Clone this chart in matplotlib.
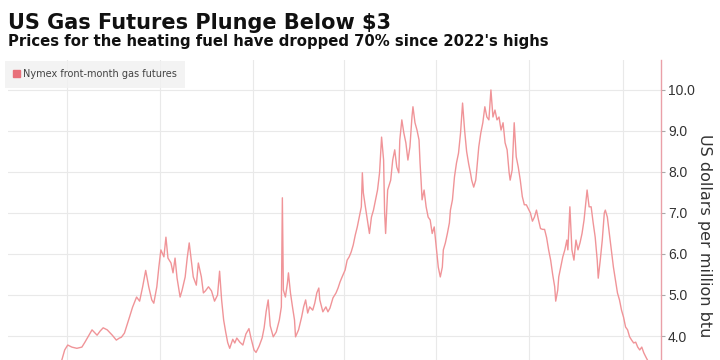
import pandas as pd
import matplotlib
matplotlib.use('Agg')
import matplotlib.pyplot as plt
import matplotlib.dates as mdates
from matplotlib.patches import Patch

# days after 2021-07-01 and front-month price (US$/MMBtu)
days = [-12, -5, -2, 1, 5, 10, 15, 18, 21, 25, 30, 33, 36, 40, 45, 49, 52, 54, 57, 60,
        62, 65, 69, 72, 75, 78, 81, 84, 86, 89, 91, 93, 96, 98, 100, 103, 105, 107, 109, 112,
        114, 117, 119, 121, 123, 125, 128, 130, 133, 135, 137, 140, 143, 146, 149, 151, 153, 155, 157, 159,
        161, 164, 166, 168, 171, 174, 177, 180, 182, 185, 187, 190, 193, 195, 197, 199, 201, 204, 207, 210,
        212, 213, 214, 216, 218, 219, 221, 223, 225, 226, 229, 232, 234, 236, 238, 240, 243, 245, 247, 249,
        250, 253, 256, 258, 260, 263, 266, 268, 270, 272, 275, 277, 279, 281, 283, 285, 287, 289, 291, 292,
        293, 295, 297, 299, 301, 303, 305, 307, 309, 311, 313, 314, 315, 317, 320, 322, 324, 326, 328, 329,
        331, 333, 335, 337, 339, 341, 342, 344, 346, 348, 349, 350, 351, 353, 355, 357, 359, 361, 363, 365,
        366, 367, 369, 371, 372, 374, 376, 378, 379, 381, 383, 385, 387, 389, 391, 393, 395, 397, 399, 400,
        402, 404, 405, 407, 409, 411, 413, 415, 417, 419, 421, 423, 425, 427, 429, 431, 433, 435, 437, 438,
        440, 442, 444, 446, 448, 450, 452, 454, 456, 458, 460, 462, 464, 466, 468, 470, 472, 474, 476, 478,
        480, 482, 483, 485, 486, 488, 490, 492, 494, 495, 497, 499, 501, 503, 505, 507, 509, 511, 513, 514,
        516, 518, 520, 522, 524, 525, 527, 529, 531, 532, 534, 536, 538, 540, 542, 544, 546, 548, 550, 552,
        554, 556, 558, 560, 562, 564, 566, 568, 570, 572, 575, 579, 582]
prices = [3.20, 3.40, 3.66, 3.78, 3.73, 3.70, 3.73, 3.85, 3.98, 4.15, 4.02, 4.12, 4.20, 4.15, 4.02, 3.90, 3.95, 3.97, 4.07, 4.30,
          4.46, 4.70, 4.95, 4.85, 5.20, 5.60, 5.20, 4.88, 4.80, 5.20, 5.68, 6.10, 5.93, 6.41, 5.90, 5.78, 5.54, 5.90, 5.41, 4.95,
          5.12, 5.44, 5.90, 6.27, 5.85, 5.44, 5.24, 5.78, 5.44, 5.05, 5.10, 5.20, 5.10, 4.85, 5.00, 5.58, 4.88, 4.39, 4.10, 3.84,
          3.70, 3.92, 3.83, 3.95, 3.85, 3.78, 4.05, 4.18, 3.95, 3.66, 3.60, 3.75, 3.95, 4.20, 4.60, 4.88, 4.25, 3.98, 4.10, 4.39,
          4.71, 7.37, 5.12, 4.95, 5.29, 5.54, 5.05, 4.71, 4.39, 3.98, 4.15, 4.46, 4.71, 4.88, 4.56, 4.71, 4.63, 4.80, 5.05, 5.17,
          4.88, 4.59, 4.71, 4.59, 4.68, 4.93, 5.05, 5.17, 5.32, 5.44, 5.61, 5.85, 5.93, 6.05, 6.22, 6.46, 6.66, 6.90, 7.15, 7.98,
          7.49, 7.15, 6.83, 6.50, 6.90, 7.07, 7.32, 7.56, 7.98, 8.85, 8.29, 7.00, 6.50, 7.56, 7.80, 8.29, 8.54, 8.12, 7.98, 8.78,
          9.27, 8.95, 8.71, 8.29, 8.61, 9.34, 9.59, 9.20, 9.02, 8.78, 8.22, 7.80, 7.32, 7.56, 7.15, 6.90, 6.83, 6.50, 6.66, 6.17,
          5.93, 5.68, 5.44, 5.68, 6.10, 6.27, 6.50, 6.76, 7.07, 7.32, 7.88, 8.22, 8.46, 8.95, 9.68, 9.02, 8.50, 8.20, 7.95, 7.80,
          7.63, 7.80, 8.05, 8.61, 8.95, 9.20, 9.59, 9.34, 9.27, 10.00, 9.34, 9.51, 9.27, 9.34, 9.02, 9.20, 8.71, 8.54, 7.98, 7.80,
          8.05, 9.20, 8.37, 8.12, 7.80, 7.40, 7.20, 7.20, 7.10, 7.00, 6.80, 6.90, 7.07, 6.83, 6.62, 6.60, 6.60, 6.40, 6.10, 5.85,
          5.50, 5.20, 4.85, 5.12, 5.44, 5.68, 5.93, 6.10, 6.34, 6.10, 7.15, 6.10, 5.85, 6.34, 6.10, 6.27, 6.50, 6.83, 7.32, 7.56,
          7.15, 7.15, 6.76, 6.41, 5.85, 5.41, 5.85, 6.34, 7.00, 7.07, 6.90, 6.50, 6.10, 5.68, 5.37, 5.05, 4.88, 4.63, 4.46, 4.22,
          4.15, 3.98, 3.90, 3.83, 3.85, 3.73, 3.66, 3.73, 3.59, 3.49, 3.35, 3.15, 3.00]
y_ticks = [4, 5, 6, 7, 8, 9, 10]

title = 'US Gas Futures Plunge Below $3'
subtitle = "Prices for the heating fuel have dropped 70% since 2022's highs"
series_name = 'Nymex front-month gas futures'
y_label = 'US dollars per million btu'

line_color = '#f09498'
grid_color = '#e9e9e9'

start = pd.Timestamp('2021-07-01')
dates = start + pd.to_timedelta(days, unit='D')

fig = plt.figure(figsize=(7.2, 3.6), dpi=100)
fig.patch.set_facecolor('white')

ax = fig.add_axes([8 / 720, 0, 653 / 720, 300 / 360])
ax.plot(dates, prices, color=line_color, lw=1.0)

ax.set_xlim(pd.Timestamp('2021-05-04'), pd.Timestamp('2023-02-08'))
ax.set_ylim(3.415, 10.73)
ax.xaxis.set_major_locator(mdates.MonthLocator(bymonth=[1, 4, 7, 10]))
ax.tick_params(axis='x', length=0, labelbottom=False)
ax.yaxis.tick_right()
ax.yaxis.set_label_position('right')
ax.set_yticks(y_ticks)
ax.set_yticklabels([f'{v:.1f}' for v in y_ticks], family='Liberation Sans',
                   fontsize=10, color='#333333')
ax.tick_params(axis='y', length=3, width=0.8, color='#aaaaaa', pad=2)
ax.set_ylabel(y_label, rotation=270, fontsize=11.5, color='#333333',
              family='DejaVu Sans', va='center', ha='center')
ax.yaxis.set_label_coords(1.066, 0.413)
ax.grid(True, color=grid_color, lw=0.8)
ax.set_axisbelow(True)
for side in ['left', 'top', 'bottom']:
    ax.spines[side].set_visible(False)
ax.spines['right'].set_color('#eaa0a8')
ax.spines['right'].set_linewidth(1.0)

fig.text(8 / 720, 1 - 29 / 360, title, fontsize=15, fontweight='bold',
         color='#111111', family='DejaVu Sans')
fig.text(8 / 720, 1 - 46 / 360, subtitle, fontsize=10.7, fontweight='bold',
         color='#111111', family='DejaVu Sans')

leg = fig.legend(handles=[Patch(color='#e8707a', label=series_name)],
                 loc='upper left', bbox_to_anchor=(5 / 720, 1 - 61 / 360),
                 fontsize=7, frameon=True, facecolor='#f1f1f1', edgecolor='none',
                 fancybox=False, handlelength=0.7, handleheight=0.7, handletextpad=0.3,
                 borderpad=0.85, borderaxespad=0)
for t in leg.get_texts():
    t.set_color('#444444')

fig.savefig('out.png', dpi=100)
